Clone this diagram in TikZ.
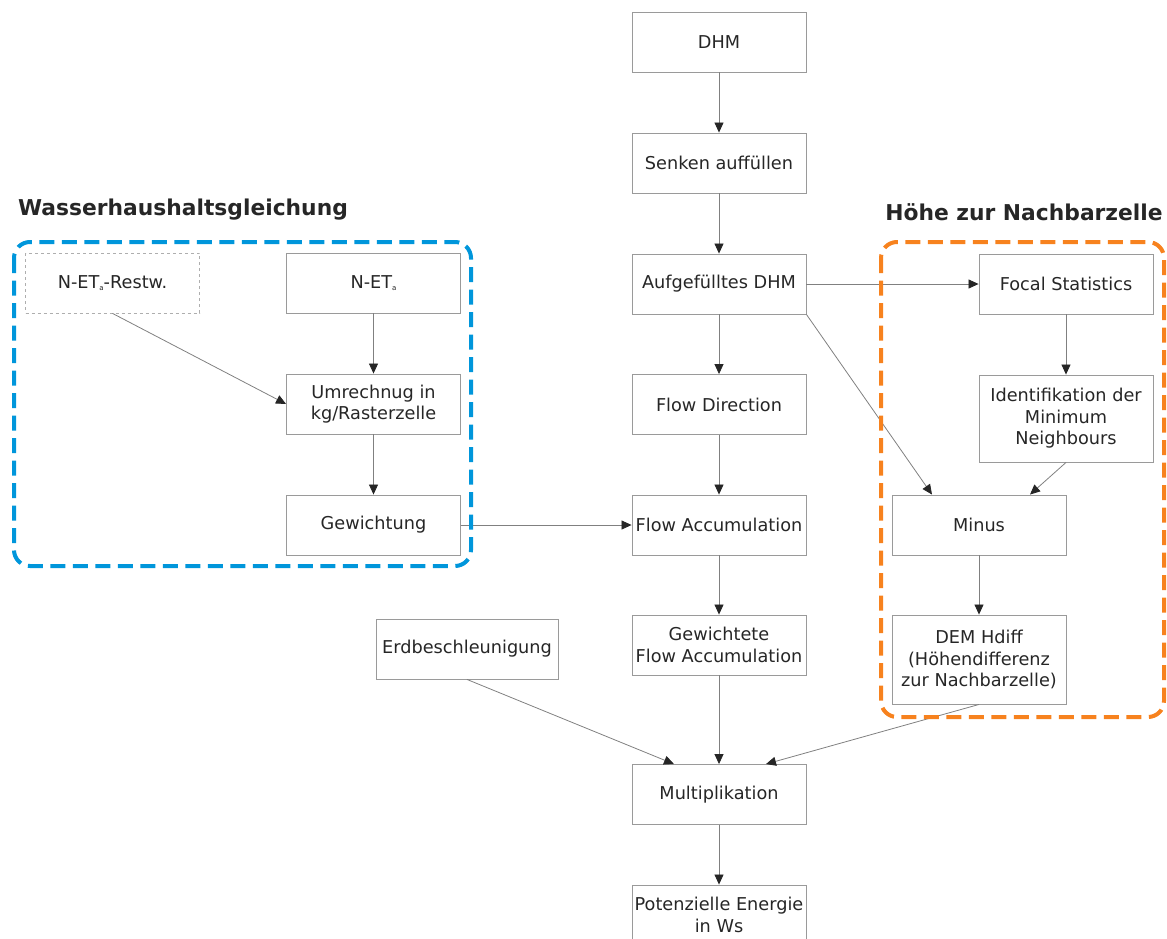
\documentclass[tikz,border=0pt]{standalone}
\usepackage{fontspec}
\setmainfont{DejaVu Sans}
\usetikzlibrary{arrows.meta,calc}
\definecolor{boxline}{HTML}{9A9A9A}
\definecolor{txt}{HTML}{262626}
\definecolor{wblue}{HTML}{0096DB}
\definecolor{horange}{HTML}{F7821E}
\newcommand{\suba}{\raisebox{-1.5pt}{\fontsize{7}{7}\selectfont a}}

\begin{document}
\begin{tikzpicture}[x=1pt,y=-1pt]
  \tikzstyle{stepbox}=[rectangle,draw=boxline,line width=0.9pt,minimum width=174pt,minimum height=60pt,inner sep=0pt,align=center,text=txt,font=\fontsize{17.7}{21.5}\selectfont]
  \tikzstyle{inputbox}=[stepbox,draw=boxline!80,dash pattern=on 3pt off 3pt,line width=0.8pt]
  \tikzstyle{flow}=[draw=black!50,line width=0.8pt,-{Triangle[length=10pt,width=9pt,color=txt]}]
  \tikzstyle{group}=[line width=4pt,dash pattern=on 15pt off 7.5pt,rounded corners=16pt]
  \tikzstyle{heading}=[text=txt,font=\bfseries\fontsize{21.8}{26}\selectfont]
  \useasboundingbox (0,0) rectangle (1167,939);
  \clip (0,0) rectangle (1167,939);

  % main column
  \node[stepbox] (dhm) at (719,42) {DHM};
  \node[stepbox] (senken) at (719,163) {Senken auffüllen};
  \node[stepbox] (aufg) at (719,284) {Aufgefülltes DHM};
  \node[stepbox] (fdir) at (719,404.5) {Flow Direction};
  \node[stepbox] (facc) at (719,525) {Flow Accumulation};
  \node[stepbox] (gfacc) at (719,645) {Gewichtete\\Flow Accumulation};
  \node[stepbox] (mult) at (719,794.5) {Multiplikation};
  \node[stepbox] (epot) at (719,915) {Potenzielle Energie\\in Ws};

  % Wasserhaushaltsgleichung
  \node[heading] (wtitle) at (183,210) {Wasserhaushaltsgleichung};
  \node[inputbox] (restw) at (112.5,283) {N-ET\suba-Restw.};
  \node[stepbox] (neta) at (373.5,283) {N-ET\suba};
  \node[stepbox] (umr) at (373.5,404) {Umrechnug in\\kg/Rasterzelle};
  \node[stepbox] (gew) at (373.5,525) {Gewichtung};

  % Hoehe zur Nachbarzelle
  \node[heading] (htitle) at (1024,212) {Höhe zur Nachbarzelle};
  \node[stepbox] (focal) at (1066,284) {Focal Statistics};
  \node[stepbox,minimum height=87pt] (ident) at (1066,418.5) {Identifikation der\\Minimum\\Neighbours};
  \node[stepbox] (minus) at (979,525) {Minus};
  \node[stepbox,minimum height=89pt] (hdiff) at (979,659.5) {DEM Hdiff\\(Höhendifferenz\\zur Nachbarzelle)};

  \node[stepbox,minimum width=182pt] (erd) at (467,649) {Erdbeschleunigung};

  \draw[flow] (dhm) -- (senken);
  \draw[flow] (senken) -- (aufg);
  \draw[flow] (aufg) -- (fdir);
  \draw[flow] (fdir) -- (facc);
  \draw[flow] (facc) -- (gfacc);
  \draw[flow] (gfacc) -- (mult);
  \draw[flow] (mult) -- (epot);
  \draw[flow] (restw.south) -- (umr.west);
  \draw[flow] (neta) -- (umr);
  \draw[flow] (umr) -- (gew);
  \draw[flow] (gew) -- (facc);
  \draw[flow] (aufg) -- (focal);
  \draw[flow] (focal) -- (ident);
  \draw[flow] (aufg.south east) -- ($(minus.north)+(-47,0)$);
  \draw[flow] (ident.south) -- ($(minus.north)+(51,0)$);
  \draw[flow] (minus) -- (hdiff);
  \draw[flow] (hdiff.south) -- ($(mult.north)+(47,0)$);
  \draw[flow] (erd.south) -- ($(mult.north)+(-45,0)$);

  \draw[group,wblue] (14,242) rectangle (471,566);
  \draw[group,horange] (881,242) rectangle (1164,717);
\end{tikzpicture}
\end{document}
